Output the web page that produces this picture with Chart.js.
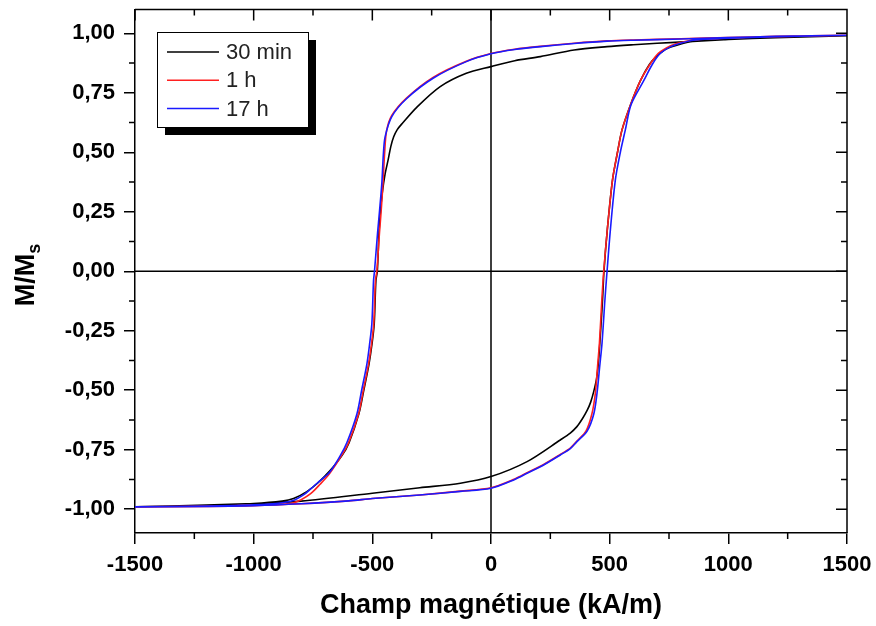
<!DOCTYPE html>
<html>
<head>
<meta charset="utf-8">
<script src="https://cdn.jsdelivr.net/npm/chart.js@4.4.0/dist/chart.umd.min.js"></script>
<style>
  html, body { margin: 0; padding: 0; background: #fff; }
</style>
</head>
<body>
<canvas id="loop" width="876" height="626"></canvas>
<script>
// Field values (kA/m) and reduced magnetisation M/Ms.
// "Up" = descending branch (from +1500 to -1500), "Down" = ascending branch.
const h30Up = [1500, 1200, 1000, 850, 700, 600, 489, 350, 208, 100, 0, -104, -214, -312, -375, -395, -410, -422, -433, -446, -458, -466, -472, -479, -485, -492, -502, -514, -536, -557, -598, -628, -680, -730, -776, -832, -880, -1000, -1200, -1500];
const m30Up = [0.99, 0.982, 0.974, 0.966, 0.958, 0.952, 0.944, 0.93, 0.902, 0.885, 0.86, 0.832, 0.776, 0.69, 0.62, 0.595, 0.565, 0.525, 0.47, 0.41, 0.33, 0.25, 0.16, 0.0, -0.04, -0.22, -0.31, -0.39, -0.5, -0.6, -0.72, -0.775, -0.84, -0.89, -0.926, -0.955, -0.966, -0.976, -0.983, -0.99];
const h30Down = [-1500, -1200, -1000, -800, -500, -300, -129, 0, 152, 292, 334, 362, 385, 405, 420, 433, 445, 453, 462, 470, 476, 490, 512, 533, 552, 588, 629, 668, 700, 740, 800, 850, 1000, 1200, 1500];
const m30Down = [-0.99, -0.983, -0.976, -0.966, -0.933, -0.91, -0.891, -0.863, -0.8, -0.709, -0.68, -0.653, -0.62, -0.585, -0.55, -0.505, -0.45, -0.38, -0.25, -0.12, 0.0, 0.174, 0.384, 0.5, 0.594, 0.7, 0.8, 0.87, 0.905, 0.935, 0.955, 0.966, 0.974, 0.982, 0.99];

const h1hUp = [1500, 1200, 1000, 800, 600, 489, 350, 208, 100, 0, -104, -244, -356, -418, -440, -448, -455, -463, -470, -481, -487, -494, -504, -516, -538, -558, -600, -630, -680, -720, -760, -800, -840, -900, -1000, -1200, -1500];
const m1hUp = [0.992, 0.987, 0.982, 0.977, 0.972, 0.968, 0.958, 0.945, 0.933, 0.915, 0.883, 0.815, 0.728, 0.655, 0.59, 0.5, 0.37, 0.25, 0.16, 0.0, -0.04, -0.22, -0.31, -0.39, -0.5, -0.6, -0.72, -0.775, -0.85, -0.895, -0.935, -0.96, -0.975, -0.979, -0.983, -0.987, -0.99];
const h1hDown = [-1500, -1200, -1000, -800, -600, -500, -300, -129, 0, 100, 152, 220, 292, 334, 362, 400, 425, 440, 449, 457, 467, 475, 490, 512, 533, 552, 588, 629, 670, 705, 755, 795, 853, 1000, 1200, 1500];
const m1hDown = [-0.99, -0.988, -0.985, -0.977, -0.965, -0.955, -0.94, -0.924, -0.91, -0.873, -0.847, -0.813, -0.77, -0.743, -0.714, -0.672, -0.6, -0.51, -0.4, -0.3, -0.12, 0.0, 0.174, 0.384, 0.5, 0.594, 0.7, 0.8, 0.87, 0.916, 0.947, 0.96, 0.972, 0.98, 0.986, 0.992];

const h17hUp = [1500, 1200, 1000, 800, 600, 489, 350, 208, 100, 0, -104, -244, -356, -418, -446, -453, -460, -470, -478, -491, -495, -502, -512, -523, -545, -565, -607, -635, -680, -720, -760, -790, -830, -880, -1000, -1200, -1500];
const m17hUp = [0.992, 0.987, 0.982, 0.976, 0.971, 0.967, 0.957, 0.944, 0.932, 0.914, 0.881, 0.811, 0.725, 0.65, 0.566, 0.5, 0.37, 0.25, 0.16, 0.0, -0.04, -0.22, -0.31, -0.39, -0.5, -0.6, -0.72, -0.775, -0.845, -0.88, -0.915, -0.94, -0.962, -0.973, -0.982, -0.987, -0.99];
const h17hDown = [-1500, -1200, -1000, -800, -600, -500, -300, -129, 0, 100, 152, 220, 292, 334, 362, 405, 433, 447, 458, 468, 480, 489, 503, 524, 545, 566, 590, 643, 680, 714, 760, 798, 853, 1000, 1200, 1500];
const m17hDown = [-0.99, -0.988, -0.985, -0.977, -0.965, -0.955, -0.94, -0.925, -0.912, -0.875, -0.849, -0.815, -0.772, -0.745, -0.716, -0.672, -0.6, -0.51, -0.4, -0.3, -0.12, 0.0, 0.174, 0.384, 0.5, 0.594, 0.7, 0.8, 0.87, 0.916, 0.945, 0.958, 0.971, 0.979, 0.986, 0.992];

const seriesLabels = ["30 min", "1 h", "17 h"];
const seriesColors = ["#000000", "#ff2020", "#1a1aff"];
const xTicks = [-1500, -1000, -500, 0, 500, 1000, 1500];
const yTicks = [-1, -0.75, -0.5, -0.25, 0, 0.25, 0.5, 0.75, 1];

const FONT = "'Liberation Sans', Arial, sans-serif";

// join both branches into one closed path of {x, y} points
function loopPoints(hA, mA, hB, mB) {
  const pts = [];
  hA.forEach((h, i) => pts.push({ x: h, y: mA[i] }));
  hB.forEach((h, i) => pts.push({ x: h, y: mB[i] }));
  return pts;
}

const loops = [
  loopPoints(h30Up, m30Up, h30Down, m30Down),
  loopPoints(h1hUp, m1hUp, h1hDown, m1hDown),
  loopPoints(h17hUp, m17hUp, h17hDown, m17hDown),
];

// frame, zero lines, minor/inward ticks, titles and the shadowed legend
const decorations = {
  id: "decorations",
  beforeDatasetsDraw(chart) {
    const { ctx, chartArea: a, scales } = chart;
    const x0 = scales.x.getPixelForValue(0);
    const y0 = scales.y.getPixelForValue(0);
    ctx.save();
    ctx.strokeStyle = "#000";
    ctx.lineWidth = 1.5;
    ctx.beginPath();
    ctx.moveTo(x0, a.top);
    ctx.lineTo(x0, a.bottom);
    ctx.moveTo(a.left, y0);
    ctx.lineTo(a.right, y0);
    ctx.stroke();
    ctx.restore();
  },
  afterDraw(chart) {
    const { ctx, chartArea: a, scales } = chart;
    const xs = scales.x, ys = scales.y;
    ctx.save();
    ctx.strokeStyle = "#000";
    ctx.lineWidth = 1.5;
    ctx.beginPath();
    // top and right sides of the frame
    ctx.moveTo(a.left, a.top);
    ctx.lineTo(a.right, a.top);
    ctx.lineTo(a.right, a.bottom);
    // x ticks: minor outward at bottom, all inward at top
    for (let v = -1500; v <= 1500; v += 250) {
      const px = xs.getPixelForValue(v);
      const major = v % 500 === 0;
      if (!major) {
        ctx.moveTo(px, a.bottom);
        ctx.lineTo(px, a.bottom + 6);
      }
      ctx.moveTo(px, a.top);
      ctx.lineTo(px, a.top + (major ? 11 : 6));
    }
    // y ticks: minor outward at left, all inward at right
    for (let k = -8; k <= 8; k++) {
      const v = k * 0.125;
      const py = ys.getPixelForValue(v);
      const major = k % 2 === 0;
      if (!major) {
        ctx.moveTo(a.left, py);
        ctx.lineTo(a.left - 6, py);
      }
      ctx.moveTo(a.right, py);
      ctx.lineTo(a.right - (major ? 11 : 6), py);
    }
    ctx.stroke();

    // axis titles
    ctx.fillStyle = "#000";
    ctx.font = "bold 27px " + FONT;
    ctx.textAlign = "center";
    ctx.textBaseline = "middle";
    ctx.fillText("Champ magnétique (kA/m)", (a.left + a.right) / 2, 606);

    ctx.save();
    ctx.translate(24, 275);
    ctx.rotate(-Math.PI / 2);
    ctx.textAlign = "left";
    ctx.textBaseline = "alphabetic";
    ctx.font = "bold 27px " + FONT;
    const main = "M/M";
    const wMain = ctx.measureText(main).width;
    ctx.font = "bold 18px " + FONT;
    const wSub = ctx.measureText("s").width;
    const start = -(wMain + wSub) / 2;
    ctx.font = "bold 27px " + FONT;
    ctx.fillText(main, start, 10);
    ctx.font = "bold 18px " + FONT;
    ctx.fillText("s", start + wMain, 16);
    ctx.restore();

    // legend with drop shadow
    const lx = 157, ly = 32, lw = 151, lh = 95;
    ctx.fillStyle = "#000";
    ctx.fillRect(lx + 8, ly + 8, lw, lh);
    ctx.fillStyle = "#fff";
    ctx.fillRect(lx, ly, lw, lh);
    ctx.lineWidth = 1;
    ctx.strokeRect(lx + 0.5, ly + 0.5, lw, lh);
    ctx.font = "22px " + FONT;
    ctx.textAlign = "left";
    ctx.textBaseline = "middle";
    seriesLabels.forEach((label, i) => {
      const ry = 52 + i * 28.3;
      ctx.strokeStyle = seriesColors[i];
      ctx.lineWidth = 1.5;
      ctx.beginPath();
      ctx.moveTo(167, ry);
      ctx.lineTo(219, ry);
      ctx.stroke();
      ctx.fillStyle = "#222";
      ctx.fillText(label, 226, ry + 1);
    });
    ctx.restore();
  },
};

const ctx = document.getElementById("loop").getContext("2d");
const chart = new Chart(ctx, {
  type: "scatter",
  data: {
    datasets: loops.map((pts, i) => ({
      label: seriesLabels[i],
      data: pts,
      showLine: true,
      borderColor: seriesColors[i],
      backgroundColor: seriesColors[i],
      borderWidth: 1.6,
      pointRadius: 0,
      tension: 0.3,
      order: 3 - i,
    })),
  },
  options: {
    responsive: false,
    animation: false,
    layout: { padding: { top: 9.5, right: 29, left: 0, bottom: 0 } },
    plugins: {
      legend: { display: false },
      tooltip: { enabled: false },
    },
    scales: {
      x: {
        type: "linear",
        min: -1500,
        max: 1500,
        afterBuildTicks: (scale) => {
          scale.ticks = xTicks.map((v) => ({ value: v }));
        },
        afterFit: (scale) => {
          scale.height = 93;
          scale.paddingLeft = 0;
          scale.paddingRight = 0;
        },
        grid: {
          display: true,
          drawOnChartArea: false,
          drawTicks: true,
          tickLength: 11,
          color: "#000",
          lineWidth: 1.5,
        },
        border: { display: true, color: "#000", width: 1.5 },
        ticks: {
          padding: 8,
          maxRotation: 0,
          autoSkip: false,
          color: "#000",
          font: { family: FONT, size: 22, weight: "bold" },
          callback: (v) => String(v),
        },
      },
      y: {
        type: "linear",
        min: -1.1,
        max: 1.1,
        afterBuildTicks: (scale) => {
          scale.ticks = yTicks.map((v) => ({ value: v }));
        },
        afterFit: (scale) => {
          scale.width = 135;
          scale.paddingTop = 0;
          scale.paddingBottom = 0;
        },
        grid: {
          display: true,
          drawOnChartArea: false,
          drawTicks: true,
          tickLength: 11,
          color: "#000",
          lineWidth: 1.5,
        },
        border: { display: true, color: "#000", width: 1.5 },
        ticks: {
          padding: 9,
          color: "#000",
          font: { family: FONT, size: 22, weight: "bold" },
          callback: (v) => (Math.abs(v) < 1e-9 ? 0 : v).toFixed(2).replace(".", ","),
        },
      },
    },
  },
  plugins: [decorations],
});
</script>
</body>
</html>
